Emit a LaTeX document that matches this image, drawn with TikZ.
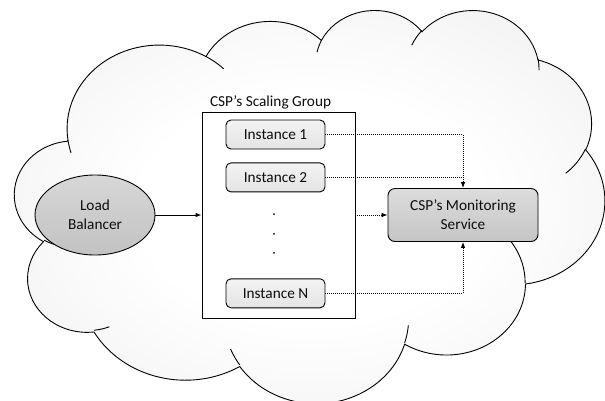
\documentclass[tikz,border=0pt]{standalone}
\usepackage{fontspec}
\setmainfont{Carlito}
\usetikzlibrary{positioning}
\usetikzlibrary{arrows.meta}
\usetikzlibrary{shapes.geometric}

\definecolor{cloudout}{HTML}{E3E3E3}
\definecolor{inktext}{HTML}{0D0D0D}
\definecolor{lbtop}{HTML}{D7D7D7}
\definecolor{lbbot}{HTML}{C2C2C2}
\definecolor{montop}{HTML}{DCDCDC}
\definecolor{monbot}{HTML}{C5C5C5}
\definecolor{insttop}{HTML}{F3F3F3}
\definecolor{instbot}{HTML}{E4E4E4}

\pgfdeclareradialshading{cloudshade}{\pgfpoint{0bp}{0bp}}{%
  color(0bp)=(white); color(14bp)=(white); color(50bp)=(cloudout); color(72bp)=(cloudout)}

\begin{document}
\begin{tikzpicture}[x=1pt,y=-1pt,>={Latex[length=6pt,width=4.5pt]},
    font=\fontsize{15.3}{19}\selectfont,text=inktext,line width=0.9pt,
    inst node/.style={draw,rounded corners=5pt,minimum width=99pt,minimum height=29pt,
                      inner sep=0pt,top color=insttop,bottom color=instbot},
    group node/.style={draw,fill=white,minimum width=153pt,minimum height=206pt,inner sep=0pt},
    lb node/.style={ellipse,draw,align=center,minimum width=120pt,minimum height=80pt,
                    inner sep=0pt,top color=lbtop,bottom color=lbbot},
    mon node/.style={draw,rounded corners=7pt,align=center,minimum width=150pt,
                     minimum height=53pt,inner sep=0pt,top color=montop,bottom color=monbot},
    dot node/.style={circle,fill=inktext,inner sep=0pt,minimum size=2pt},
    link/.style={dash pattern=on 1pt off 1pt,line width=0.8pt}]

  \useasboundingbox (0,0) rectangle (605,400);

  % cloud
  \begin{scope}[shift={(14.7,9.2)},x=1pt,y=1pt,xscale=13.655,yscale=-9.1]
    \shadedraw[shading=cloudshade] (3.9,14.37)
      arc[start angle=-187.745,end angle=-59.637,x radius=6.753pt,y radius=9.19pt]
      arc[start angle=-152.043,end angle=-45.422,x radius=5.333pt,y radius=7.267pt]
      arc[start angle=-153.50,end angle=-37.337,x radius=4.365pt,y radius=5.945pt]
      arc[start angle=-139.711,end angle=-10.212,x radius=4.857pt,y radius=6.595pt]
      arc[start angle=-74.771,end angle=23.207,x radius=5.333pt,y radius=7.273pt]
      arc[start angle=-37.520,end angle=81.862,x radius=6.775pt,y radius=9.22pt]
      arc[start angle=0.460,end angle=121.979,x radius=5.785pt,y radius=7.867pt]
      arc[start angle=16.843,end angle=146.227,x radius=6.752pt,y radius=9.215pt]
      arc[start angle=58.988,end angle=150.185,x radius=7.72pt,y radius=10.543pt]
      arc[start angle=-276.694,end angle=-136.882,x radius=4.36pt,y radius=5.918pt]
      arc[start angle=-239.647,end angle=-95.887,x radius=4.345pt,y radius=5.945pt]
      -- cycle;
    \draw (4.693,26.177) arc[start angle=85.547,end angle=120.353,x radius=4.345pt,y radius=5.945pt];
    \draw (6.928,34.899) arc[start angle=68.238,end angle=83.306,x radius=4.36pt,y radius=5.918pt];
    \draw (16.478,39.09) arc[start angle=146.227,end angle=158.474,x radius=6.752pt,y radius=9.215pt];
    \draw (28.827,34.751) arc[start angle=4.738,end angle=16.843,x radius=6.752pt,y radius=9.215pt];
    \draw (34.129,22.954) arc[start angle=-64.030,end angle=0.460,x radius=5.785pt,y radius=7.867pt];
    \draw (41.798,15.354) arc[start angle=23.207,end angle=49.636,x radius=5.333pt,y radius=7.273pt];
    \draw (38.324,5.426) arc[start angle=-10.212,end angle=0.818,x radius=4.857pt,y radius=6.595pt];
    \draw (29.078,3.952) arc[start angle=-156.293,end angle=-139.711,x radius=4.857pt,y radius=6.595pt];
    \draw (22.141,4.72) arc[start angle=-167.723,end angle=-153.50,x radius=4.365pt,y radius=5.945pt];
    \draw (14.0,5.192) arc[start angle=-59.637,end angle=-45.698,x radius=6.753pt,y radius=9.19pt];
    \draw (4.127,15.789) arc[start angle=163.190,end angle=172.253,x radius=6.753pt,y radius=9.19pt];
  \end{scope}

  \node[lb node] (lb) at (95,215) {Load\\Balancer};
  \node[group node] (grp) at (278.5,215) {};
  \node[inner sep=0pt,above right=1.5pt and 8pt of grp.north west] (title) {CSP’s Scaling Group};
  \node[inst node] (inst1) at (275.5,134.5) {Instance 1};
  \node[inst node] (inst2) [below=13pt of inst1] {Instance 2};
  \node[inst node] (instN) [below=86pt of inst2] {Instance N};
  \node[dot node] (dot1) at (274,214) {};
  \node[dot node] (dot2) [below=17pt of dot1] {};
  \node[dot node] (dot3) [below=16pt of dot2] {};
  \node[mon node] (mon) at (463,215) {CSP’s Monitoring\\Service};

  \path[->]
    (lb) edge (grp)
    (grp) edge[link] (mon);
  \draw[link,->] (inst1) -| (mon);
  \draw[link] (inst2) -- (inst2 -| mon);
  \draw[link,->] (instN) -| (mon);

\end{tikzpicture}
\end{document}
